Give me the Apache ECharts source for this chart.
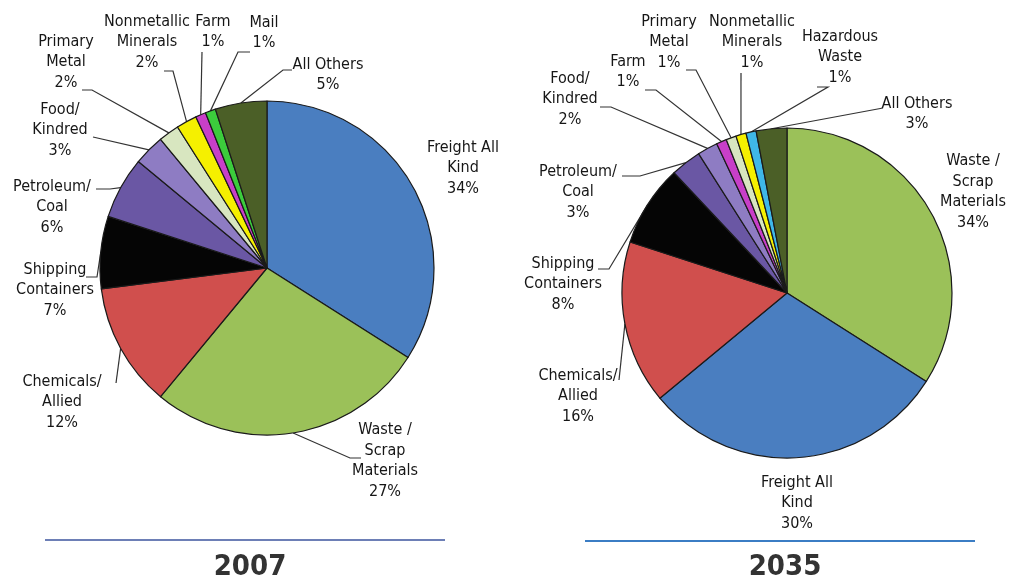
<!DOCTYPE html>
<html>
<head>
<meta charset="utf-8">
<script src="https://cdn.jsdelivr.net/npm/echarts@6/dist/echarts.min.js"></script>
<style>
html,body{margin:0;padding:0;background:#fff;}
#c{width:1010px;height:582px;}
</style>
</head>
<body>
<div id="c"></div>
<script>
// ---- data ----
const names2007 = ['Freight All\nKind', 'Waste /\nScrap\nMaterials', 'Chemicals/\nAllied', 'Shipping\nContainers', 'Petroleum/\nCoal', 'Food/\nKindred', 'Primary\nMetal', 'Nonmetallic\nMinerals', 'Farm', 'Mail', 'All Others'];
const values2007 = [34, 27, 12, 7, 6, 3, 2, 2, 1, 1, 5];
const names2035 = ['Waste /\nScrap\nMaterials', 'Freight All\nKind', 'Chemicals/\nAllied', 'Shipping\nContainers', 'Petroleum/\nCoal', 'Food/\nKindred', 'Farm', 'Primary\nMetal', 'Nonmetallic\nMinerals', 'Hazardous\nWaste', 'All Others'];
const values2035 = [34, 30, 16, 8, 3, 2, 1, 1, 1, 1, 3];
const years = ['2007', '2035'];

// ---- styles ----
const colorOf = {
  'Freight All\nKind': '#4a7ec0',
  'Waste /\nScrap\nMaterials': '#9bc159',
  'Chemicals/\nAllied': '#d04f4d',
  'Shipping\nContainers': '#050505',
  'Petroleum/\nCoal': '#6a57a4',
  'Food/\nKindred': '#8e7cc3',
  'Primary\nMetal': '#d8e6c0',
  'Nonmetallic\nMinerals': '#f5f000',
  'Farm': '#c83fc8',
  'Mail': '#3ccc3c',
  'Hazardous\nWaste': '#3fb7e8',
  'All Others': '#4b5f27'
};

// label placement (annotation layout only): text centre and leader line bend/end points
const labelSpots2007 = [
  {x: 463, y: 168, line: null},
  {x: 385, y: 461, line: [[350, 458], [361, 458]]},
  {x: 62, y: 402, line: [[116, 383], [116, 383]]},
  {x: 55, y: 290, line: [[97, 277], [86, 277]]},
  {x: 52, y: 207, line: [[110, 189], [96, 189]]},
  {x: 60, y: 130, line: [[93, 137], [93, 137]]},
  {x: 66, y: 62, line: [[92, 90], [82, 90]]},
  {x: 147, y: 42, line: [[173, 71], [164, 71]]},
  {x: 213, y: 32, line: [[202, 52], [202, 52]]},
  {x: 264, y: 33, line: [[238, 52], [250, 52]]},
  {x: 328, y: 75, line: [[283, 70], [292, 70]]}
];
const labelSpots2035 = [
  {x: 973, y: 192, line: null},
  {x: 797, y: 503, line: null},
  {x: 578, y: 396, line: [[619, 380], [619, 380]]},
  {x: 563, y: 284, line: [[609, 269], [598, 269]]},
  {x: 578, y: 192, line: [[640, 176], [622, 176]]},
  {x: 570, y: 99, line: [[611, 107], [600, 107]]},
  {x: 628, y: 72, line: [[656, 90], [645, 90]]},
  {x: 669, y: 42, line: [[696, 70], [686, 70]]},
  {x: 752, y: 42, line: [[741, 73], [741, 73]]},
  {x: 840, y: 57, line: [[828, 87], [817, 87]]},
  {x: 917, y: 114, line: [[883, 108], [883, 108]]}
];

const FONT = "'Liberation Sans Narrow', 'DejaVu Sans Condensed', 'Arial Narrow', sans-serif";

function buildData(names, values, spots) {
  return names.map((n, i) => ({
    name: n,
    value: values[i],
    itemStyle: {color: colorOf[n]},
    labelLine: {show: !!spots[i].line}
  }));
}

function makeSeries(names, values, spots, center, radius) {
  return {
    type: 'pie',
    center: center,
    radius: radius,
    startAngle: 90,
    clockwise: true,
    avoidLabelOverlap: false,
    animation: false,
    silent: true,
    data: buildData(names, values, spots),
    itemStyle: {borderColor: '#1a1a1a', borderWidth: 1.2},
    label: {
      show: true,
      position: 'outside',
      formatter: p => p.name + '\n' + p.value + '%',
      fontFamily: FONT,
      fontSize: 16,
      lineHeight: 20.5,
      color: '#161616',
      align: 'center'
    },
    labelLine: {show: true, length: 8, length2: 8, lineStyle: {color: '#333', width: 1.2}},
    labelLayout: function (params) {
      const s = spots[params.dataIndex];
      const out = {x: s.x, y: s.y, align: 'center', verticalAlign: 'middle'};
      if (s.line && params.labelLinePoints) {
        out.labelLinePoints = [params.labelLinePoints[0], s.line[0], s.line[1]];
      }
      return out;
    }
  };
}

const chart = echarts.init(document.getElementById('c'), null, {renderer: 'canvas'});
chart.setOption({
  backgroundColor: '#ffffff',
  animation: false,
  title: [
    {text: years[0], left: 245, top: 548, textAlign: 'center',
     textStyle: {fontFamily: FONT, fontWeight: 'bold', fontSize: 29, color: '#333'}},
    {text: years[1], left: 780, top: 548, textAlign: 'center',
     textStyle: {fontFamily: FONT, fontWeight: 'bold', fontSize: 29, color: '#333'}}
  ],
  graphic: [
    {type: 'line', shape: {x1: 45, y1: 540, x2: 445, y2: 540}, style: {stroke: '#6d7fb6', lineWidth: 2}},
    {type: 'line', shape: {x1: 585, y1: 541, x2: 975, y2: 541}, style: {stroke: '#3b7dc4', lineWidth: 2}}
  ],
  series: [
    makeSeries(names2007, values2007, labelSpots2007, [267, 268], 167),
    makeSeries(names2035, values2035, labelSpots2035, [787, 293], 165)
  ]
});
</script>
</body>
</html>
